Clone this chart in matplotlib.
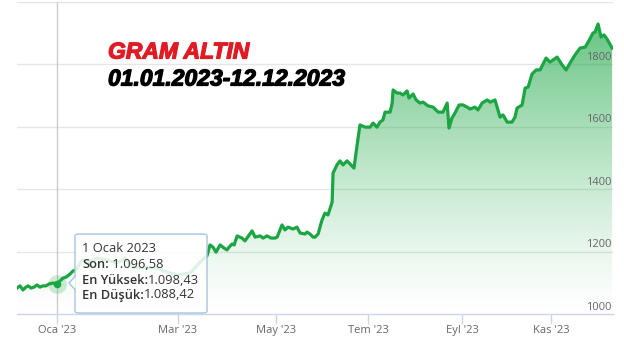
import matplotlib
matplotlib.use("Agg")
import matplotlib.pyplot as plt
import matplotlib.patheffects as pe
import numpy as np
from matplotlib.patches import Polygon, FancyBboxPatch

# ---- data (trading-session index relative to 1 Jan 2023, price in TL) ----
session = [-17.4, -16.1, -14.8, -13.5, -12.6, -11.3, -10.0, -8.7, -7.4, -6.1,
           -4.8, -3.5, -1.7, 0.0, 1.3, 2.6, 3.9, 5.2, 7.0, 8.3,
           10.9, 13.5, 17.4, 21.7, 26.1, 29.6, 33.0, 37.4, 43.5, 47.8,
           52.2, 57.8, 62.2, 65.2, 66.5, 67.8, 69.1, 70.9, 72.6, 73.9,
           74.8, 76.1, 77.0, 78.3, 80.4, 81.7, 84.8, 86.1, 88.3, 89.6,
           91.3, 93.0, 94.8, 95.7, 97.8, 99.1, 100.4, 102.6, 104.3, 105.7,
           107.8, 108.7, 110.0, 111.3, 112.2, 113.5, 115.2, 116.5, 117.8, 119.6,
           120.0, 121.7, 123.0, 124.3, 126.1, 127.4, 129.1, 130.4, 131.7, 133.9,
           136.1, 137.4, 139.1, 140.4, 141.7, 142.6, 144.8, 145.7, 146.1, 147.8,
           149.1, 150.4, 152.2, 153.0, 154.8, 156.1, 157.8, 159.1, 161.3, 163.5,
           165.7, 167.8, 169.6, 170.4, 171.7, 173.0, 174.8, 176.5, 178.3, 179.6,
           181.7, 183.0, 184.8, 187.0, 188.3, 190.4, 191.7, 192.6, 193.9, 195.7,
           197.8, 199.1, 200.0, 202.2, 203.5, 204.8, 206.5, 208.3, 210.0, 212.6,
           214.3, 217.4, 219.6, 221.3, 223.0, 225.2, 227.4, 229.6, 230.9, 233.0,
           233.9, 235.2, 236.5, 237.8, 239.1, 241.3]
price = [1083, 1090, 1077, 1086, 1090, 1083, 1086, 1093, 1086, 1090,
         1090, 1096, 1099, 1096.58, 1106, 1115, 1118, 1125, 1138, 1141,
         1173, 1163, 1179, 1173, 1163, 1179, 1150, 1147, 1147, 1134,
         1125, 1131, 1166, 1186, 1221, 1214, 1198, 1221, 1211, 1205,
         1214, 1224, 1221, 1250, 1243, 1234, 1266, 1246, 1250, 1243,
         1250, 1243, 1243, 1246, 1285, 1269, 1278, 1272, 1278, 1259,
         1256, 1262, 1256, 1246, 1246, 1256, 1301, 1323, 1317, 1358,
         1451, 1477, 1490, 1477, 1490, 1480, 1467, 1538, 1605, 1598,
         1598, 1611, 1598, 1614, 1621, 1646, 1646, 1675, 1717, 1707,
         1707, 1701, 1714, 1691, 1704, 1685, 1675, 1678, 1666, 1662,
         1646, 1646, 1675, 1595, 1627, 1643, 1669, 1669, 1662, 1656,
         1662, 1653, 1675, 1685, 1678, 1685, 1653, 1630, 1637, 1614,
         1614, 1630, 1659, 1669, 1723, 1726, 1768, 1781, 1781, 1819,
         1806, 1822, 1797, 1781, 1803, 1829, 1851, 1854, 1870, 1899,
         1902, 1928, 1886, 1893, 1880, 1851]

tick_pos = [0, 52.6, 95.2, 135.2, 176.1, 214.8]
tick_labels = ["Oca '23", "Mar '23", "May '23", "Tem '23", "Eyl '23", "Kas '23"]
y_grid = [1000, 1200, 1400, 1600, 1800, 2000]
y_labels = ["1000", "1200", "1400", "1600", "1800"]

title1 = "GRAM ALTIN"
title2 = "01.01.2023-12.12.2023"
tip_date = "1 Ocak 2023"
tip_rows = [("Son:", " 1.096,58"), ("En Yüksek:", "1.098,43"), ("En Düşük:", "1.088,42")]
hover_index = 13

W, H = 624, 344
fig = plt.figure(figsize=(W / 100, H / 100), dpi=100)
fig.patch.set_facecolor("white")

def fx(px):
    return px / W

def fy(py):
    return 1 - py / H

ax = fig.add_axes([fx(17), fy(314), fx(613) - fx(17), fy(1.5) - fy(314)])
xmin, xmax = -17.4, 241.7
ax.set_xlim(xmin, xmax)
ax.set_ylim(1000, 2000)
ax.set_facecolor("none")

line_col = "#1ba543"
grid_col = "#e6e6e6"
axis_col = "#ccd6eb"
label_col = "#666666"

for g in y_grid[1:]:
    ax.axhline(g, color=grid_col, lw=1.0, zorder=0)

for s in ["top", "right", "left"]:
    ax.spines[s].set_visible(False)
ax.spines["bottom"].set_color(axis_col)
ax.spines["bottom"].set_linewidth(1.0)
ax.spines["bottom"].set_zorder(5)

ax.set_yticks([])
ax.set_xticks(tick_pos)
ax.set_xticklabels(tick_labels, fontfamily="Open Sans", fontsize=8, color=label_col)
ax.tick_params(axis="x", length=7, width=1, color=axis_col, pad=1.0)

for lab in y_labels:
    v = float(lab)
    ax.annotate(lab, xy=(1.0, v), xycoords=("axes fraction", "data"),
                xytext=(-1, 1.0), textcoords="offset points",
                ha="right", va="bottom", fontfamily="Open Sans", fontsize=8,
                color=label_col, zorder=6)

# gradient area
xs = np.array(session)
ys = np.array(price)
verts = [(xs[0], 1000)] + list(zip(xs, ys)) + [(xs[-1], 1000)]
poly = Polygon(verts, closed=True, facecolor="none", edgecolor="none")
ax.add_patch(poly)
n = 256
frac = np.linspace(0, 1, n).reshape(-1, 1)
rgba = np.zeros((n, 1, 4))
rgba[..., 0] = 0.12
rgba[..., 1] = 0.66
rgba[..., 2] = 0.28
rgba[..., 3] = 0.74 * frac ** 1.25
im = ax.imshow(rgba, extent=[xmin, xmax, 1000, 2000], origin="lower",
               aspect="auto", zorder=1, interpolation="bilinear")
im.set_clip_path(poly)

ax.axvline(session[hover_index], color="#cccccc", lw=1.0, zorder=2)

ax.plot(xs, ys, color=line_col, lw=2.3, zorder=3, solid_joinstyle="round")

ax.scatter([session[hover_index]], [price[hover_index]], s=180, color=line_col,
           alpha=0.22, zorder=3.5, linewidths=0)
ax.scatter([session[hover_index]], [price[hover_index]], s=30, color=line_col,
           zorder=4, linewidths=0)

# titles
fig.text(fx(108), fy(52), title1, color="#e01b24", fontfamily="Liberation Sans",
         fontweight="bold", fontstyle="italic", fontsize=16.5, va="center", ha="left",
         path_effects=[pe.withStroke(linewidth=0.9, foreground="#e01b24")])
fig.text(fx(108), fy(79), title2, color="black", fontfamily="Liberation Sans",
         fontweight="bold", fontstyle="italic", fontsize=16.5, va="center", ha="left",
         path_effects=[pe.withStroke(linewidth=0.9, foreground="black")])

# tooltip
bx0, by0, bx1, by1 = 75, 234, 207, 313
box = FancyBboxPatch((fx(bx0), fy(by1)), fx(bx1) - fx(bx0), fy(by0) - fy(by1),
                     boxstyle="round,pad=0,rounding_size=0.006",
                     transform=fig.transFigure, facecolor="white", alpha=0.86,
                     edgecolor="none", zorder=10)
fig.add_artist(box)
border = FancyBboxPatch((fx(bx0), fy(by1)), fx(bx1) - fx(bx0), fy(by0) - fy(by1),
                        boxstyle="round,pad=0,rounding_size=0.006",
                        transform=fig.transFigure, facecolor="none",
                        edgecolor="#a7c4e0", lw=1.0, zorder=11)
fig.add_artist(border)
ptr = Polygon([(fx(bx0 + 0.5), fy(276)), (fx(69), fy(283)), (fx(bx0 + 0.5), fy(290))],
              closed=False, transform=fig.transFigure, facecolor="white",
              edgecolor="#a7c4e0", lw=1.0, zorder=12)
fig.add_artist(ptr)

tip_font = dict(fontfamily="Open Sans", fontsize=9.3, color="#333333", zorder=13)
fig.text(fx(82), fy(249), tip_date, va="center", ha="left", **tip_font)
fig.canvas.draw()
renderer = fig.canvas.get_renderer()
row_y = [264, 280, 295]
for (bold, val), yy in zip(tip_rows, row_y):
    t = fig.text(fx(82), fy(yy), bold, va="center", ha="left", fontweight="semibold", **tip_font)
    bb = t.get_window_extent(renderer=renderer)
    fig.text(bb.x1 / fig.bbox.width, fy(yy), val, va="center", ha="left", **tip_font)

fig.savefig("out.png", dpi=100, facecolor="white")
